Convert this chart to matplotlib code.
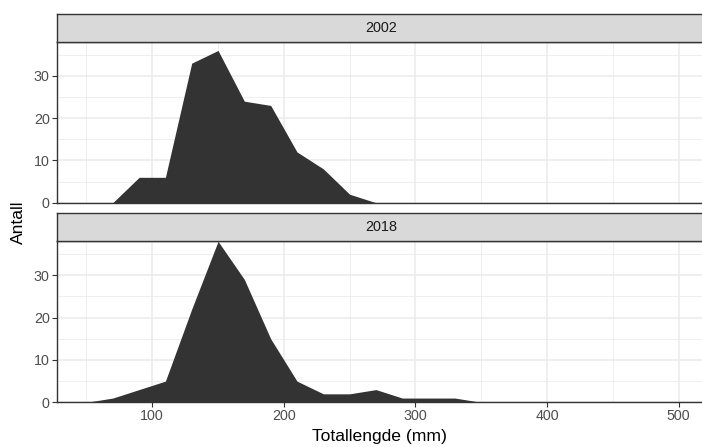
import matplotlib
matplotlib.use("Agg")
import matplotlib.pyplot as plt
import numpy as np

plt.rcParams["font.family"] = ["Liberation Sans", "DejaVu Sans"]

# length classes (bin midpoints, 20 mm bins) and fish counts per year
lengths = [50, 70, 90, 110, 130, 150, 170, 190, 210, 230, 250, 270, 290, 310,
           330, 350, 370, 390, 410, 430, 450, 470, 490]
counts_2002 = [0, 0, 6, 6, 33, 36, 24, 23, 12, 8, 2, 0, 0, 0,
               0, 0, 0, 0, 0, 0, 0, 0, 0]
counts_2018 = [0, 1, 3, 5, 22, 38, 29, 15, 5, 2, 2, 3, 1, 1,
               1, 0, 0, 0, 0, 0, 0, 0, 0]
years = ["2002", "2018"]
x_ticks = [100, 200, 300, 400, 500]
y_ticks = [0, 10, 20, 30]

W, H = 702, 447
fig = plt.figure(figsize=(W / 100, H / 100), dpi=100)

def px_rect(x0, y0, x1, y1):
    return [x0 / W, 1 - y1 / H, (x1 - x0) / W, (y1 - y0) / H]

left, right = 56.7, 712
panels = [(14, 42, 202.7), (212.7, 241.3, 402.3)]
xlim = (27.4, 27.4 + (right - left) / 1.316)

for i, (year, counts) in enumerate(zip(years, [counts_2002, counts_2018])):
    s_top, p_top, p_bot = panels[i]
    ax = fig.add_axes(px_rect(left, p_top, right, p_bot))
    ax.set_xlim(xlim)
    ax.set_ylim(0, 38)
    ax.set_xticks(x_ticks)
    ax.set_xticks([50, 150, 250, 350, 450], minor=True)
    ax.set_yticks(y_ticks)
    ax.set_yticks([5, 15, 25, 35], minor=True)
    ax.grid(True, which="major", color="#EBEBEB", linewidth=1.1)
    ax.grid(True, which="minor", color="#EBEBEB", linewidth=0.55)
    ax.set_axisbelow(True)
    ax.fill_between(lengths, counts, 0, color="#333333", linewidth=0, zorder=2)
    for sp in ax.spines.values():
        sp.set_color("#333333")
        sp.set_linewidth(1.0)
    ax.tick_params(which="minor", length=0)
    ax.tick_params(which="major", length=3.5, width=0.8, color="#333333",
                   labelcolor="#4D4D4D", labelsize=10.3, pad=1.5)
    if i == 0:
        ax.tick_params(axis="x", which="major", length=0, labelbottom=False)

    # facet strip
    sx = fig.add_axes(px_rect(left, s_top, right, p_top))
    sx.set_facecolor("#D9D9D9")
    sx.set_xticks([])
    sx.set_yticks([])
    for sp in sx.spines.values():
        sp.set_color("#333333")
        sp.set_linewidth(1.0)
    sx.text((381.5 - left) / (right - left), 0.5, year, transform=sx.transAxes,
            ha="center", va="center", fontsize=10.4, color="#1A1A1A")

fig.text(379 / W, 1 - 437 / H, "Totallengde (mm)", ha="center", va="center",
         fontsize=12.6, color="black")
fig.text(18 / W, 1 - 222 / H, "Antall", ha="center", va="center",
         rotation=90, fontsize=12.6, color="black")

fig.savefig("out.png", dpi=100)
